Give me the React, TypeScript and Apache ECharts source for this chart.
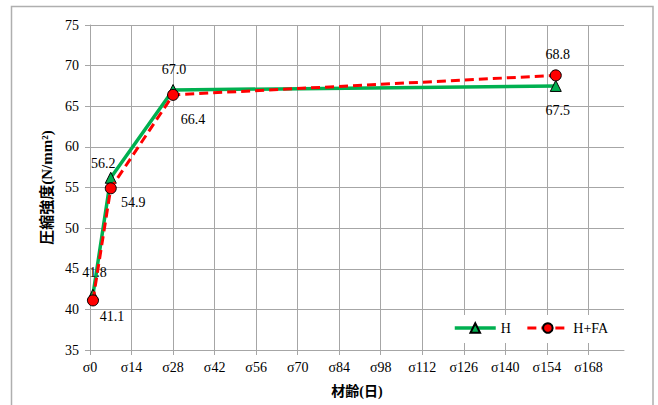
import React, { useEffect, useRef } from "react";
import * as echarts from "echarts";

const ages = [1, 7, 28, 157];
const seriesH = [41.8, 56.2, 67.0, 67.5];
const seriesHFA = [41.1, 54.9, 66.4, 68.8];
const xTicks = [0, 14, 28, 42, 56, 70, 84, 98, 112, 126, 140, 154, 168];

// label layout offsets (pixels), not data
const offH = [[1.5, -22], [-7.5, -14], [1, -21], [2, 25]];
const offHFA = [[19, 16], [22.5, 14.5], [20, 25], [2, -21]];

const SERIF = "'Times New Roman', 'Liberation Serif', 'Noto Sans CJK JP', serif";

export default function App() {
  const ref = useRef<HTMLDivElement>(null);
  useEffect(() => {
    if (!ref.current) return;
    const chart = echarts.init(ref.current, null, { renderer: "svg" });
    const mk = (vals: number[], offs: number[][]) =>
      vals.map((v, i) => ({
        value: [ages[i], v],
        label: {
          show: true,
          position: "inside",
          offset: offs[i],
          formatter: v.toFixed(1),
        },
      }));
    chart.setOption({
      animation: false,
      backgroundColor: "#fff",
      textStyle: { fontFamily: SERIF },
      graphic: [
        {
          type: "rect",
          silent: true,
          z: -10,
          shape: { x: 11.5, y: 6.5, width: 641.5, height: 420 },
          style: { fill: "none", stroke: "#AFAFAF", lineWidth: 1.5 },
        },
      ],
      grid: { left: 90, right: 34, top: 25, bottom: 55 },
      legend: {
        left: 448,
        top: 315,
        padding: [6, 8, 8, 5],
        backgroundColor: "#fff",
        itemWidth: 41,
        itemHeight: 12,
        itemGap: 15,
        textStyle: { fontFamily: SERIF, fontSize: 14, color: "#000" },
        data: [
          { name: "H", lineStyle: { width: 3.5, color: "#00B050" } },
          { name: "H+FA", lineStyle: { width: 3, color: "#FF0000", type: [9, 5] } },
        ],
      },
      xAxis: {
        type: "value",
        min: 0,
        max: 180,
        interval: 14,
        name: "材齢(日)",
        nameLocation: "middle",
        nameGap: 34,
        nameTextStyle: { fontFamily: SERIF, fontSize: 14, fontWeight: "bold", color: "#000" },
        axisLine: { show: true, lineStyle: { color: "#A6A6A6", width: 1 } },
        axisTick: { show: true, length: 5, lineStyle: { color: "#A6A6A6" } },
        axisLabel: {
          color: "#000",
          fontSize: 14,
          fontFamily: SERIF,
          margin: 10,
          showMaxLabel: false,
          formatter: (v: number) => (xTicks.includes(v) ? "σ" + v : ""),
        },
        splitLine: { show: true, showMaxLine: false, lineStyle: { color: "#A6A6A6", width: 1 } },
      },
      yAxis: {
        type: "value",
        min: 35,
        max: 75,
        interval: 5,
        name: "圧縮強度(N/mm²)",
        nameLocation: "middle",
        nameRotate: 90,
        nameGap: 35,
        nameTextStyle: { fontFamily: SERIF, fontSize: 15, fontWeight: "bold", color: "#000" },
        axisLine: { show: true, lineStyle: { color: "#A6A6A6", width: 1 } },
        axisTick: { show: true, length: 5, lineStyle: { color: "#A6A6A6" } },
        axisLabel: { color: "#000", fontSize: 14, fontFamily: SERIF, margin: 11 },
        splitLine: { show: true, lineStyle: { color: "#A6A6A6", width: 1 } },
      },
      series: [
        {
          name: "H",
          type: "line",
          data: mk(seriesH, offH),
          symbol: "triangle",
          symbolSize: 11,
          lineStyle: { color: "#00B050", width: 3.5 },
          itemStyle: { color: "#00B050", borderColor: "#000", borderWidth: 1 },
          label: { color: "#000", fontSize: 14, fontFamily: SERIF },
          z: 2,
        },
        {
          name: "H+FA",
          type: "line",
          data: mk(seriesHFA, offHFA),
          symbol: "circle",
          symbolSize: 11,
          lineStyle: { color: "#FF0000", width: 3, type: [9, 5] },
          itemStyle: { color: "#FF0000", borderColor: "#000", borderWidth: 1 },
          label: { color: "#000", fontSize: 14, fontFamily: SERIF },
          z: 3,
        },
      ],
    });
    return () => chart.dispose();
  }, []);
  return (
    <div
      ref={ref}
      style={{ position: "fixed", left: 0, top: 0, width: 658, height: 405, background: "#fff" }}
    />
  );
}
